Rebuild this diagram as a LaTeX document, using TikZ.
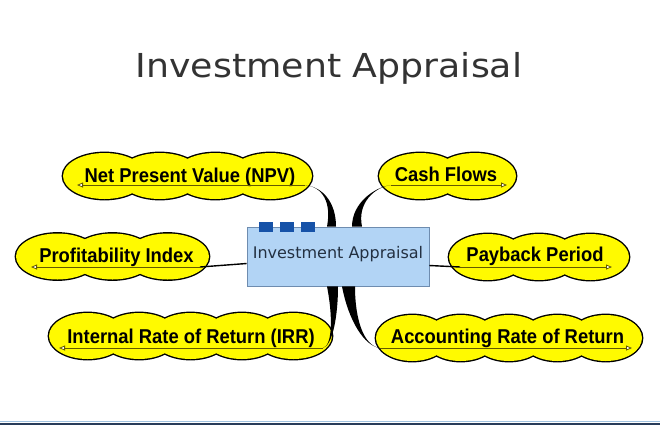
\documentclass[tikz,border=0pt]{standalone}
\usepackage{fontspec}
\usepackage{xcolor}
\usepackage{tikz}
\usetikzlibrary{arrows.meta,calc}
\newfontfamily\titlefont[FakeStretch=1.1]{DejaVu Sans}
\newfontfamily\hubfont{DejaVu Sans}
\newfontfamily\bubblefont[FakeStretch=0.92]{Liberation Sans}
\definecolor{titlegray}{RGB}{51,51,51}
\definecolor{hubblue}{RGB}{178,212,245}
\definecolor{hubedge}{RGB}{110,140,175}
\definecolor{hubink}{RGB}{35,48,65}
\definecolor{tabblue}{RGB}{22,82,168}
\definecolor{bubbleyellow}{RGB}{255,250,0}
\definecolor{underink}{RGB}{100,90,0}
\definecolor{rulelight}{RGB}{160,195,225}
\definecolor{ruledark}{RGB}{40,60,90}

% scalloped bubble: left x, right x, centre y, bumps
\newcommand{\cloudbubble}[4]{%
  \pgfmathsetmacro{\cbstep}{(#2-#1-2)/(#4+0.5)}
  \pgfmathsetmacro{\cbrad}{0.75*\cbstep}
  \foreach \k in {1,...,#4}
    \draw[line width=2.8pt] ({#1+1+\cbrad+(\k-1)*\cbstep},#3) ellipse [x radius=\cbrad, y radius=23];
  \foreach \k in {1,...,#4}
    \fill[bubbleyellow] ({#1+1+\cbrad+(\k-1)*\cbstep},#3) ellipse [x radius=\cbrad, y radius=23];
}

\begin{document}
\begin{tikzpicture}[x=1pt,y=-1pt,>=Latex,
  bubbletext/.style={font=\bubblefont\bfseries\fontsize{20}{24}\selectfont,inner sep=0pt,anchor=base},
  uline/.style={draw=underink,line width=0.8pt,-{Triangle[length=6pt,width=5pt,fill=white]}},
  taper/.style={fill=black},
  spoke/.style={draw=black,line width=1.4pt},
  hub/.style={draw=hubedge,fill=hubblue,line width=0.8pt,minimum width=182pt,minimum height=59pt,
    font=\hubfont\fontsize{16}{19}\selectfont,text=hubink,text height=12pt,text depth=8.4pt},
  tab/.style={fill=tabblue}]
  \useasboundingbox (0,0) rectangle (660,440);

  \node[font=\titlefont\fontsize{33}{40}\selectfont,text=titlegray,anchor=base,inner sep=0pt] (title) at (329,77) {Investment Appraisal};

  % bubbles
  \cloudbubble{62}{313}{176}{4}
  \cloudbubble{378}{517}{176}{2}
  \cloudbubble{15}{210}{256.5}{3}
  \cloudbubble{448}{630}{257}{3}
  \cloudbubble{48}{333}{336}{5}
  \cloudbubble{375}{643}{338}{5}

  \node[bubbletext] (npv) at (190,182) {Net Present Value (NPV)};
  \node[bubbletext] (cash) at (446,181) {Cash Flows};
  \node[bubbletext] (prof) at (116.5,262) {Profitability Index};
  \node[bubbletext] (payback) at (535,261) {Payback Period};
  \node[bubbletext] (irr) at (191,343.5) {Internal Rate of Return (IRR)};
  \node[bubbletext] (arr) at (507.5,343.5) {Accounting Rate of Return};

  \coordinate (npv-in) at (305,185);     \coordinate (npv-out) at (77,185);
  \coordinate (cash-in) at (391,185);    \coordinate (cash-out) at (507,185);
  \coordinate (prof-in) at (200,267);    \coordinate (prof-out) at (31,267);
  \coordinate (payback-in) at (460,267); \coordinate (payback-out) at (612,267);
  \coordinate (irr-in) at (323,348);     \coordinate (irr-out) at (59,348);
  \coordinate (arr-in) at (380,348);     \coordinate (arr-out) at (632,348);

  \draw[uline] (npv-in) -- (npv-out);
  \draw[uline] (cash-in) -- (cash-out);
  \draw[uline] (prof-in) -- (prof-out);
  \draw[uline] (payback-in) -- (payback-out);
  \draw[uline] (irr-in) -- (irr-out);
  \draw[uline] (arr-in) -- (arr-out);

  % centre
  \node[hub] (hub) at (338,256.5) {Investment Appraisal};

  \fill[taper] (npv-in) .. controls +(18,2) and +(0,-24) .. ($(hub.north)+(-2,0)$)
    -- ($(hub.north)+(-11,0)$) .. controls +(4.5,-24) and +(18,2) .. (npv-in) -- cycle;
  \fill[taper] (cash-in) .. controls +(-16,2) and +(0,-24) .. ($(hub.north)+(14,0)$)
    -- ($(hub.north)+(24,0)$) .. controls +(-5,-24) and +(-16,2) .. (cash-in) -- cycle;
  \fill[taper] (irr-in) .. controls +(10,-3) and +(0,28) .. ($(hub.south)+(0,0)$)
    -- ($(hub.south)+(-11,0)$) .. controls +(5.5,28) and +(10,-3) .. (irr-in) -- cycle;
  \fill[taper] (arr-in) .. controls +(-16,-2) and +(0,34) .. ($(hub.south)+(17,0)$)
    -- ($(hub.south)+(4,0)$) .. controls +(6.5,34) and +(-16,-2) .. (arr-in) -- cycle;
  \draw[spoke] (prof-in) -- ($(hub.west)+(0,7)$);
  \draw[spoke] ($(hub.east)+(0,9)$) -- (payback-in);

  \foreach \dx in {12,33,54}
    \fill[tab] ($(hub.north west)+(\dx,-5)$) rectangle +(14,10);

  % bottom rule
  \draw[rulelight,line width=1pt] (0,421.5) -- (660,421.5);
  \draw[ruledark,line width=2pt] (0,423.5) -- (660,423.5);
\end{tikzpicture}
\end{document}
